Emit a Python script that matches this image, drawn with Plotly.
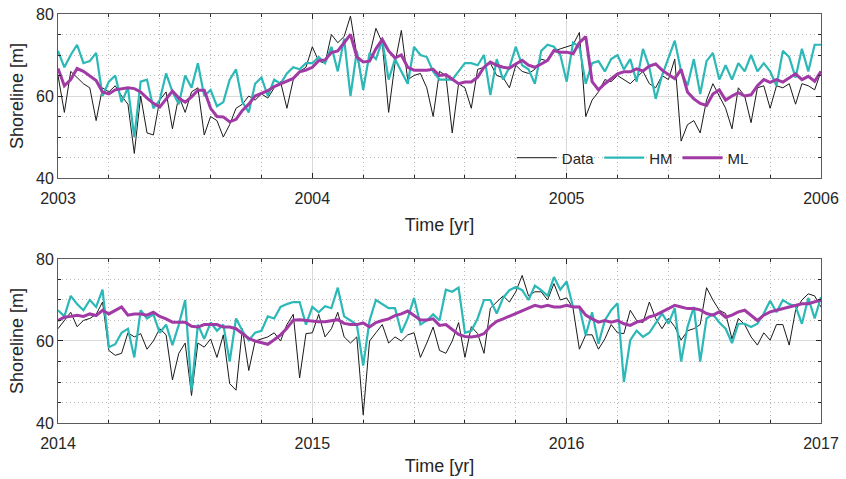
import plotly.graph_objects as go
from plotly.subplots import make_subplots

# ---------------- data ----------------
step = 0.025
t_top = [round(2003 + step * i, 3) for i in range(241)]
t_bot = [round(2014 + step * i, 3) for i in range(241)]

data_top = [65, 56, 66, 64.5, 63, 62, 54, 62, 61, 62.5,
            60, 58, 46, 60, 51, 50.5, 59, 61, 52, 60,
            56, 61, 62, 50.5, 55, 54, 50, 53, 57, 58,
            60, 59, 60.5, 59.5, 62, 63.5, 57, 64, 66, 67,
            72, 68.5, 68, 75, 73, 74.5, 79.5, 70, 62, 70,
            76.5, 73, 56, 68, 76, 64, 65, 65.5, 62, 55,
            66,
            65, 51, 63, 62, 57, 66.5, 67, 68, 65, 64.5,
            62, 67.5, 66, 65.5, 66.5, 69, 68.5, 71, 71.5, 72,
            72.5, 75.5, 55, 59, 61, 64, 63.5, 65, 64, 63,
            64.5, 66, 63, 62, 65, 64, 69, 49, 53, 54,
            51, 59, 63, 60, 57, 52, 62, 60, 53.5, 62,
            62.5, 57, 62.5, 62, 63, 58, 63, 62.5, 61.5, 66]

hm_top = [71, 67, 70, 72.5, 68, 68.5, 70.5, 60, 63.5, 65,
          58.5, 62, 50, 63.5, 64, 57, 59, 65.5, 61, 58,
          65, 62, 68, 60, 61.5, 57.5, 58.5, 64, 66.5, 58.5,
          56, 63, 64.5, 60, 64, 63, 65.5, 67, 66.5, 68,
          68, 69.5, 68, 72, 66, 74, 60, 71, 61.5, 70.5,
          69, 73.5, 64, 69, 66, 63, 72, 70, 69.5, 66,
          64,
          64, 64, 66, 68, 68, 67.5, 70, 60.2, 69, 64,
          67, 72, 67.5, 66.5, 63, 71, 72.5, 72, 70, 63.5,
          73, 72, 63, 68, 68.5, 66, 69, 70, 66.5, 69,
          63.5, 71.5, 67, 59.3, 65, 69, 73.5, 66, 62.5, 69,
          60.5, 68.5, 70.5, 64, 67.5, 64, 68, 66, 70, 66,
          68, 66, 62.5, 71, 69.5, 64.5, 71.5, 66, 72.5, 72.5]

ml_top = [66.7, 62.5, 64, 66.7, 66, 64.8, 63.8, 61, 60.5, 61.5,
          61.8, 62, 61.8, 61, 59.5, 58.2, 57.3, 59.3, 61.2, 59.5,
          58.5, 59.8, 61.4, 61.4, 57, 55, 54.9, 53.7, 54.3, 56.5,
          58, 60, 60.6, 61.3, 62.3, 63, 63.7, 64.3, 65.9, 66.3,
          67, 68.6, 68.8, 70.6, 71, 73, 75, 69.5, 68.3, 68.5,
          71.5, 73.8, 71, 69.3, 70, 67, 66.3, 66.3, 66.3, 66.5,
          65,
          65.2, 64, 63, 63.4, 63.4, 64.6, 67, 68.3, 67.5, 67,
          66.8, 67.8, 68.7, 67.5, 67, 67.8, 68.7, 71.1, 70.7, 70.7,
          70.3, 73, 74.5, 63.5, 61.5, 63, 64.2, 65.4, 65.9, 65.9,
          66.6, 66.1, 67.3, 67.8, 66.3, 65.3, 64.2, 66.5, 61, 59.3,
          58.2, 57.7, 60.5, 61.5, 59, 60, 60.8, 60, 60.3, 62.5,
          64, 63.3, 64, 63.4, 64.5, 65.4, 64, 64.8, 63.6, 66]

data_bot = [63, 65, 67, 63.5, 65, 65.5, 66.5, 69.5, 57.7, 56.5,
            57, 62, 61, 61.8, 58, 60, 63, 61.5, 50.5, 57,
            59.5, 46.7, 59.5, 58.5, 60.5, 56, 61.5, 49.6, 48, 63,
            52.8, 60, 60.5, 61, 62, 60, 64, 66.5, 51, 61.8,
            62, 66.5, 61, 63, 67, 61, 59.5, 61, 42, 60,
            62, 64, 59.5, 61, 60, 61.5, 62, 56, 59.5, 63.4,
            57.7,
            57, 60, 64.5, 56, 63.5, 61.8, 57, 68, 69.5, 71,
            69.5, 72, 76, 71, 72, 72, 70, 74, 70, 70.5,
            68, 58, 61.5, 61.5, 58, 60.5, 64, 62, 61.8, 67.5,
            65, 64.5, 69.5, 65.5, 63, 65.5, 63.5, 60.2, 62.5, 63,
            64, 73, 70, 67.5, 66.7, 60.5, 65.5, 64, 61, 59,
            62, 60.2, 64, 64, 59, 67.5, 70, 71.5, 71, 68.3]

hm_bot = [67.5, 66, 71, 69, 67.5, 70, 68.3, 72.5, 58.5, 59.2,
          62, 63, 56, 67.5, 65.5, 66.5, 62, 64, 59, 64,
          70, 48, 64, 60.5, 64.5, 62.5, 64, 55, 65.5, 62.5,
          60.2, 62, 62.5, 66, 65.5, 68.3, 69, 69.5, 69.5, 64,
          68.3, 67, 68.5, 68, 73, 66, 65, 64, 54, 65,
          70, 69, 68, 68, 62, 65.5, 70.5, 64, 65, 66.5,
          65,
          72.5, 72, 73, 62, 62.5, 65.5, 70, 70, 66.7, 70.5,
          72.4, 73.2, 72.4, 70, 73.5, 72.4, 71, 75.6, 72.5, 74.5,
          68.3, 68.3, 61.4, 67, 59.3, 65, 67.5, 69.2, 50, 60.2,
          62.5, 61, 62, 64.5, 66.7, 64.2, 68, 55, 63.4, 68.3,
          55, 65.5, 66.5, 64.5, 63, 59.5, 64.2, 64.2, 63.4, 64.2,
          66.7, 69.8, 67, 70, 69, 68.5, 64.2, 70.5, 65.5, 70.7]

ml_bot = [65, 65.8, 66, 66.3, 66, 66.6, 66.2, 67.5, 66.6, 67.5,
          68.3, 66.3, 66.6, 66.6, 66.3, 67, 66, 65.4, 64.6, 64.6,
          64.6, 63.6, 63.4, 64, 64, 64, 63.4, 63.4, 63, 61.8,
          60.6, 60, 59.6, 59.2, 60.3, 61.5, 63.1, 65.1, 65.2, 65,
          64.8, 64.7, 64.7, 65, 65.2, 64.3, 64, 64, 64.4, 63.4,
          64.5, 65, 65.4, 66.2, 66.6, 67.3, 66.3, 65.1, 65.1, 65.4,
          63.8,
          64, 62.8, 61.6, 61.1, 61, 61.2, 61.8, 63.6, 64.8, 65.4,
          66.1, 66.6, 67.5, 68.2, 68.7, 68.3, 68.7, 68.3, 68.3, 68.7,
          68.3, 68.3, 66.3, 65.4, 64.6, 65, 64.6, 65, 64.2, 63.8,
          64.6, 65, 65.9, 66.3, 67.1, 67.9, 68.7, 68.3, 67.9, 67.9,
          67.6, 66.7, 66.3, 67.1, 65.8, 66.3, 67.1, 67.5, 66.3, 65,
          66.3, 67.1, 67.5, 67.9, 68.3, 68.7, 69.1, 69.1, 69.5, 70]

series_names = ["Data", "HM", "ML"]
top_years = [2003, 2006]
bot_years = [2014, 2017]
y_range = [40, 80]

# ---------------- styling ----------------
DARK = "#262626"
COL = {"Data": "#1a1a1a", "HM": "#2db8b8", "ML": "#a23aa6"}
WID = {"Data": 1, "HM": 2.2, "ML": 3}
FONT = "Liberation Sans, Arial, Helvetica, sans-serif"
DOT = "1px,3px"

fig = make_subplots(rows=2, cols=1)

panels = [(1, t_top, [data_top, hm_top, ml_top]),
          (2, t_bot, [data_bot, hm_bot, ml_bot])]
for row, t, vals in panels:
    for name, v in zip(series_names, vals):
        fig.add_trace(go.Scatter(
            x=t, y=v, mode="lines", name=name,
            line=dict(color=COL[name], width=WID[name]),
            showlegend=(row == 1)), row=row, col=1)

def xax(rng, standoff):
    return dict(range=rng, tickmode="linear", tick0=rng[0], dtick=1, tickformat="d",
                automargin=False,
                ticks="inside", ticklen=5, tickcolor=DARK, ticklabelstandoff=6,
                showline=True, linecolor="#5a5a5a", linewidth=1, mirror="ticks",
                showgrid=True, gridcolor="#d9d9d9", gridwidth=1, zeroline=False,
                minor=dict(tickmode="linear", tick0=rng[0], dtick=0.2, ticks="inside",
                           ticklen=3, tickcolor=DARK, showgrid=True,
                           gridcolor="#b8b8b8", griddash=DOT, gridwidth=1),
                tickfont=dict(size=16, color=DARK, family=FONT),
                title=dict(text="Time [yr]", font=dict(size=18, color=DARK, family=FONT),
                           standoff=standoff))

def yax():
    return dict(range=y_range, tickmode="linear", tick0=40, dtick=20, automargin=False,
                ticks="inside", ticklen=5, tickcolor=DARK,
                showline=True, linecolor="#5a5a5a", linewidth=1, mirror="ticks",
                showgrid=True, gridcolor="#d9d9d9", gridwidth=1, zeroline=False,
                minor=dict(tickmode="linear", tick0=40, dtick=5, ticks="inside",
                           ticklen=3, tickcolor=DARK, showgrid=True,
                           gridcolor="#b8b8b8", griddash=DOT, gridwidth=1),
                tickfont=dict(size=16, color=DARK, family=FONT),
                title=dict(text="Shoreline [m]", font=dict(size=18, color=DARK, family=FONT),
                           standoff=7))

fig.update_layout(
    width=846, height=479,
    margin=dict(l=58, r=25, t=14, b=56),
    paper_bgcolor="white", plot_bgcolor="white",
    font=dict(family=FONT, color=DARK),
    xaxis=dict(domain=[0, 1], anchor="y", **xax(top_years, 12)),
    yaxis=dict(domain=[0.599, 1], anchor="x", **yax()),
    xaxis2=dict(domain=[0, 1], anchor="y2", **xax(bot_years, 8)),
    yaxis2=dict(domain=[0, 0.401], anchor="x2", **yax()),
    legend=dict(orientation="h", x=0.912, xanchor="right", y=0.648, yanchor="middle",
                bgcolor="rgba(0,0,0,0)", font=dict(size=15, color=DARK, family=FONT),
                itemwidth=40, tracegroupgap=0),
    showlegend=True,
)

# remove the page's default body margin so the figure sits at the window's corner
fig.write_html("out.html", config={"displayModeBar": False},
               post_script="document.body.style.margin='0';document.body.style.padding='0';")
